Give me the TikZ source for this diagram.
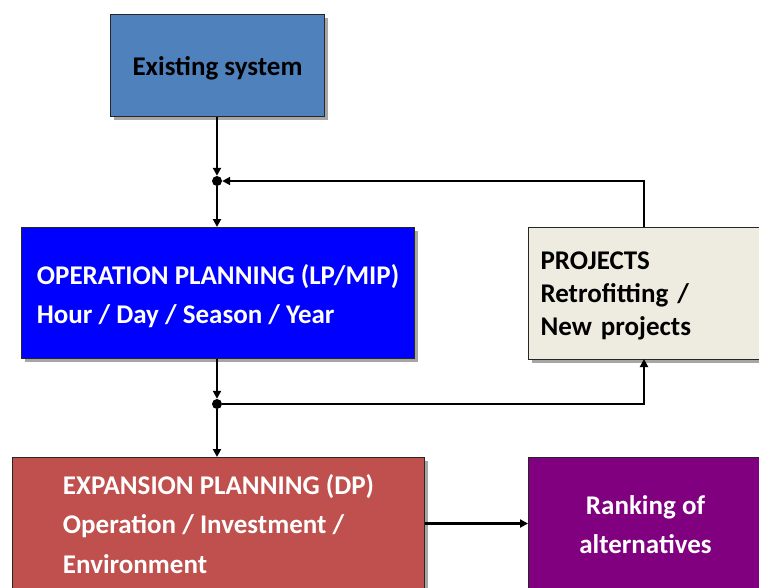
\documentclass[tikz,border=0pt]{standalone}
\usepackage{fontspec}
\setmainfont{Carlito}
\usetikzlibrary{arrows.meta,shadows,calc}
\definecolor{esblue}{HTML}{4F81BD}
\definecolor{opblue}{HTML}{0000FF}
\definecolor{pjbeige}{HTML}{EEECE1}
\definecolor{exred}{HTML}{C0504D}
\definecolor{rkpurple}{HTML}{800080}
\newcommand{\dnstrut}[1]{\rule{0pt}{#1}}
\tikzset{
  box/.style={rectangle, draw=black!85, line width=1pt, anchor=north west,
    font=\bfseries\fontsize{27}{39}\selectfont,
    drop shadow={shadow xshift=3pt, shadow yshift=-3pt, fill=black, opacity=0.35}},
  dot/.style={circle, fill=black, inner sep=0pt, minimum size=10pt},
  arr/.style={line width=2.2pt, -{Triangle[length=8pt,width=8pt]}},
}
\begin{document}
\begin{tikzpicture}[x=1pt,y=-1pt]
\useasboundingbox (0,0) rectangle (759,587);
\clip (0,0) rectangle (759,587);
\fill[white] (0,0) rectangle (759,587);
% boxes
\node[box, fill=esblue, minimum width=214pt, minimum height=102pt, align=center]
  (es) at (110,14) {\dnstrut{25pt}Existing system};
\node[box, fill=opblue, text=white, minimum width=393pt, minimum height=131pt, align=left]
  (op) at (21,227) {\dnstrut{26pt}OPERATION PLANNING (LP/MIP)\\Hour / Day / Season / Year};
\node[box, fill=pjbeige, inner xsep=12pt, text width=220pt, minimum height=132pt, align=left,
  font=\bfseries\fontsize{27}{33}\selectfont]
  (pj) at (528,227) {\dnstrut{22pt}PROJECTS\\Retrofitting /\\New projects};
\node[box, fill=exred, text=white, minimum width=412pt, minimum height=132pt, align=left,
  font=\bfseries\fontsize{27}{39.5}\selectfont]
  (ex) at (12,457) {\dnstrut{21pt}EXPANSION PLANNING (DP)\\Operation / Investment /\\Environment};
\node[box, fill=rkpurple, text=white, minimum width=234pt, minimum height=132pt, align=center]
  (rk) at (528,457) {\dnstrut{22pt}Ranking of\\alternatives};
% junctions
\node[dot] (d1) at (217,181) {};
\node[dot] (d2) at (217,404) {};
\coordinate (pjtop) at (644,227);
\coordinate (pjbot) at (644,359);
% connectors
\draw[arr] (es.south -| d1) -- (d1.north);
\draw[arr] (d1.south) -- (d1 |- op.north);
\draw[arr] (pjtop) |- (d1);
\draw[arr] (op.south -| d2) -- (d2.north);
\draw[arr] (d2.south) -- (d2 |- ex.north);
\draw[arr] (d2) -| (pjbot);
\draw[arr] (ex.east) -- (rk.west);
\end{tikzpicture}
\end{document}
